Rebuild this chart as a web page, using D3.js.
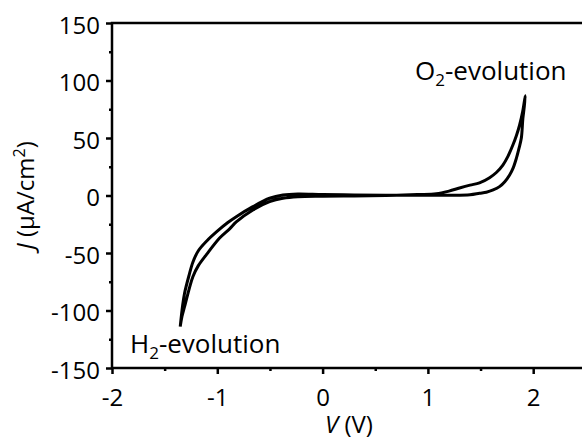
<!DOCTYPE html>
<html lang="en">
  <head>
    <meta charset="UTF-8" />
    <title>J-V curve</title>
    <script src="https://cdn.jsdelivr.net/npm/d3@7"></script>
    <style>
      body { margin: 0; background: #fff; }
      text { font-family: "Open Sans", sans-serif; fill: #000; }
    </style>
  </head>
  <body>
    <div id="chart"></div>
    <script>
      // forward sweep: cathodic tip -> anodic tip
      let forwardV = [-1.352, -1.33, -1.311, -1.27, -1.232, -1.18, -1.1, -1.0, -0.9, -0.82, -0.662, -0.503, -0.377, -0.235, 0, 0.3, 0.6, 0.9, 1.2, 1.4, 1.49, 1.555, 1.62, 1.68, 1.73, 1.776, 1.81, 1.84, 1.865, 1.887, 1.902, 1.915, 1.925];
      let forwardJ = [-114, -96, -85, -70, -58, -48, -39.5, -31, -23.5, -18.4, -9.7, -2.4, 0.4, 1.3, 0.8, 0.5, 0.3, 0.2, 0.2, 0.6, 1.9, 2.8, 4.8, 7.7, 12, 17.8, 24, 32.3, 41, 49.7, 67, 77, 86.8];
      // reverse sweep: anodic tip -> cathodic tip
      let reverseV = [1.925, 1.9, 1.871, 1.84, 1.807, 1.76, 1.712, 1.65, 1.586, 1.49, 1.4, 1.3, 1.2, 1.08, 0.9, 0.6, 0.3, 0, -0.235, -0.377, -0.503, -0.662, -0.82, -0.883, -0.978, -1.1, -1.18, -1.232, -1.311, -1.335, -1.352];
      let reverseJ = [86.8, 73, 61.3, 52, 43.9, 34, 26.5, 20, 15.5, 11, 9, 6.5, 3.8, 1.5, 0.8, 0, -0.4, -0.6, -1, -2.4, -5.4, -12.6, -23, -29, -37, -51, -61, -70.6, -96.7, -105, -114];

      let xMajor = [-2, -1, 0, 1, 2];
      let xMinor = [-1.5, -0.5, 0.5, 1.5];
      let yMajor = [-150, -100, -50, 0, 50, 100, 150];
      let yMinor = [-125, -75, -25, 25, 75, 125];

      let width = 582;
      let height = 440;
      let margin = { top: 23, left: 112, bottom: 72 };

      let svg = d3
        .select("#chart")
        .append("svg")
        .attr("width", width)
        .attr("height", height)
        .style("display", "block");

      let x = d3.scaleLinear().domain([-2, 2.5]).range([margin.left, margin.left + 4.5 * 105.3]);
      let y = d3.scaleLinear().domain([-150, 150]).range([height - margin.bottom, margin.top]);

      let line = d3
        .line()
        .x((d) => x(d[0]))
        .y((d) => y(d[1]))
        .curve(d3.curveCatmullRom.alpha(0.5));

      let loop = d3.zip(forwardV, forwardJ).concat(d3.zip(reverseV, reverseJ).slice(1));

      svg
        .append("path")
        .datum(loop)
        .attr("d", line)
        .attr("fill", "none")
        .attr("stroke", "#000")
        .attr("stroke-width", 3)
        .attr("stroke-linejoin", "round");

      // frame
      svg
        .append("rect")
        .attr("x", x(-2))
        .attr("y", y(150))
        .attr("width", x(2.5) - x(-2))
        .attr("height", y(-150) - y(150))
        .attr("fill", "none")
        .attr("stroke", "#000")
        .attr("stroke-width", 2.5);

      let fmt = (d) => String(d);

      // x axis
      svg
        .append("g")
        .attr("transform", `translate(0,${y(-150)})`)
        .call(d3.axisBottom(x).tickValues(xMajor).tickFormat(fmt).tickSize(6).tickPadding(15));
      svg
        .append("g")
        .attr("transform", `translate(0,${y(-150)})`)
        .call(d3.axisBottom(x).tickValues(xMinor).tickFormat("").tickSize(3));

      // y axis
      let yAxis = svg
        .append("g")
        .attr("transform", `translate(${x(-2)},0)`)
        .call(d3.axisLeft(y).tickValues(yMajor).tickFormat(fmt).tickSize(6).tickPadding(6));
      svg
        .append("g")
        .attr("transform", `translate(${x(-2)},0)`)
        .call(d3.axisLeft(y).tickValues(yMinor).tickFormat("").tickSize(3));

      svg.selectAll(".domain").remove();
      svg.selectAll(".tick line").attr("stroke", "#000").attr("stroke-width", 2.5);
      svg.selectAll(".tick text").attr("font-size", 24).attr("font-family", "Open Sans, sans-serif");
      yAxis.selectAll(".tick text").attr("dy", "0.42em");

      // axis titles
      let xTitle = svg
        .append("text")
        .attr("x", (x(-2) + x(2.5)) / 2)
        .attr("y", 433)
        .attr("text-anchor", "middle")
        .attr("font-size", 24);
      xTitle.append("tspan").attr("font-style", "italic").text("V");
      xTitle.append("tspan").text(" (V)");

      let yTitle = svg
        .append("text")
        .attr("transform", `translate(34,${(y(150) + y(-150)) / 2}) rotate(-90)`)
        .attr("text-anchor", "middle")
        .attr("font-size", 24);
      yTitle.append("tspan").attr("font-style", "italic").text("J");
      yTitle.append("tspan").text(" (μA/cm");
      yTitle.append("tspan").attr("font-size", 16).attr("dy", -9).text("2");
      yTitle.append("tspan").attr("dy", 9).text(")");

      // annotations
      function label(px, py, sub) {
        let t = svg.append("text").attr("x", px).attr("y", py).attr("font-size", 26);
        t.append("tspan").text(sub);
        t.append("tspan").attr("font-size", 17).attr("dy", 6).text("2");
        t.append("tspan").attr("dy", -6).text("-evolution");
      }
      label(130, 353, "H");
      label(415, 80, "O");
    </script>
  </body>
</html>
